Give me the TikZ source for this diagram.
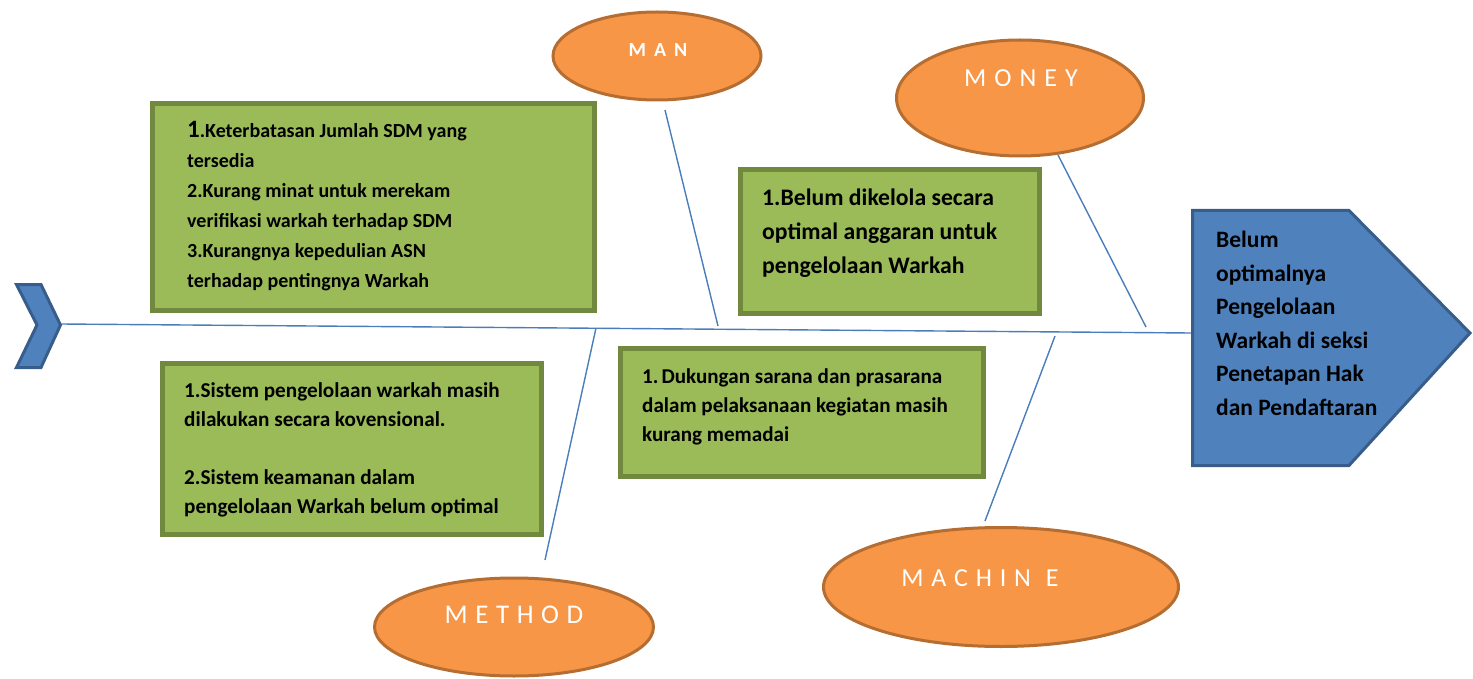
\documentclass[tikz,border=0pt]{standalone}
\usepackage{fontspec}
\setmainfont{Carlito}
\usetikzlibrary{shapes.geometric}
\definecolor{bfill}{HTML}{4F81BD}
\definecolor{bdraw}{HTML}{385D8A}
\definecolor{gfill}{HTML}{9BBB59}
\definecolor{gdraw}{HTML}{71893F}
\definecolor{ofill}{HTML}{F79646}
\definecolor{odraw}{HTML}{B66D31}
\definecolor{bone}{HTML}{4A7EBB}
\begin{document}
\begin{tikzpicture}[x=1pt,y=-1pt,
  causebox/.style={draw=gdraw,fill=gfill,line width=4.5pt,rectangle,inner sep=0pt},
  cat/.style={draw=odraw,fill=ofill,line width=3pt,ellipse,inner sep=0pt},
  cattext/.style={text=white,inner sep=0pt},
  boxtext/.style={anchor=north west,align=left,inner sep=0pt,text=black},
  boneline/.style={draw=bone,line width=1.4pt},
  headshape/.style={draw=bdraw,fill=bfill,line width=3pt,line join=miter}]
\useasboundingbox (0,0) rectangle (1473,679);

% tail chevron
\draw[headshape] (16.5,284.5) -- (41,284.5) -- (60.5,325) -- (41,367.5) -- (16.5,367.5) -- (37,325) -- cycle;
\coordinate (tail) at (61,324);

% head
\draw[headshape] (1192.5,210.5) -- (1349,210.5) -- (1470,333) -- (1349,465.5) -- (1192.5,465.5) -- cycle;
\coordinate (head) at (1191,333);
\node[boxtext,font=\fontsize{23.5}{33.5}\selectfont\bfseries] (thead) at (1216,231)
  {Belum\\optimalnya\\Pengelolaan\\Warkah di seksi\\Penetapan Hak\\dan Pendaftaran};

% spine
\draw[boneline] (tail) -- (head);

% category ellipses
\node[cat,minimum width=208pt,minimum height=88pt] (eman) at (657,56) {};
\node[cattext,font=\fontsize{20}{24}\selectfont\bfseries] (tman) at (658,50) {M\hspace{8pt}A\hspace{8pt}N};
\node[cat,minimum width=247pt,minimum height=116pt] (emoney) at (1020,98) {};
\node[cattext,font=\fontsize{26}{30}\selectfont] (tmoney) at (1021,78) {M\hspace{8pt}O\hspace{8pt}N\hspace{8pt}E\hspace{8pt}Y};
\node[cat,minimum width=279pt,minimum height=98pt] (emethod) at (514,627) {};
\node[cattext,font=\fontsize{27}{30}\selectfont] (tmethod) at (514,615) {M\hspace{7.6pt}E\hspace{7.6pt}T\hspace{7.6pt}H\hspace{7.6pt}O\hspace{7.6pt}D};
\node[cat,minimum width=355pt,minimum height=119pt] (emachine) at (1001,587) {};
\node[cattext,font=\fontsize{26}{30}\selectfont] (tmachine) at (980,578) {M\hspace{7.8pt}A\hspace{7.8pt}C\hspace{7.8pt}H\hspace{7.8pt}I\hspace{7.8pt}N\hspace{15pt}E};

% bones
\coordinate (manA) at (665,110);
\coordinate (manB) at (718,326);
\coordinate (moneyA) at (1058,155);
\coordinate (moneyB) at (1146,327);
\coordinate (methodA) at (596,328);
\coordinate (methodB) at (545,560);
\coordinate (machineA) at (1055,336);
\coordinate (machineB) at (985,521);
\draw[boneline] (manA) -- (manB);
\draw[boneline] (moneyA) -- (moneyB);
\draw[boneline] (methodA) -- (methodB);
\draw[boneline] (machineA) -- (machineB);

% cause boxes
\node[causebox,minimum width=442pt,minimum height=207pt] (bman) at (373.5,207) {};
\node[boxtext,font=\fontsize{20}{30.1}\selectfont\bfseries] (tbman) at (187,121)
  {{\fontsize{25}{30}\selectfont 1}.Keterbatasan Jumlah SDM yang\\tersedia\\2.Kurang minat untuk merekam\\verifikasi warkah terhadap SDM\\3.Kurangnya kepedulian ASN\\terhadap pentingnya Warkah};

\node[causebox,minimum width=299pt,minimum height=144pt] (bmoney) at (890,241.5) {};
\node[boxtext,font=\fontsize{23.7}{34}\selectfont\bfseries] (tbmoney) at (762,189)
  {1.Belum dikelola secara\\optimal anggaran untuk\\pengelolaan Warkah};

\node[causebox,minimum width=379pt,minimum height=171pt] (bmethod) at (352,449) {};
\node[boxtext,font=\fontsize{21.2}{29}\selectfont\bfseries] (tbmethod) at (184,382)
  {1.Sistem pengelolaan warkah masih\\dilakukan secara kovensional.\\[29pt]2.Sistem keamanan dalam\\pengelolaan Warkah belum optimal};

\node[causebox,minimum width=363pt,minimum height=128pt] (bmachine) at (802,412.5) {};
\node[boxtext,font=\fontsize{21.1}{29}\selectfont\bfseries] (tbmachine) at (642,368)
  {1.\hspace{3pt}Dukungan sarana dan prasarana\\dalam pelaksanaan kegiatan masih\\kurang memadai};
\end{tikzpicture}
\end{document}
